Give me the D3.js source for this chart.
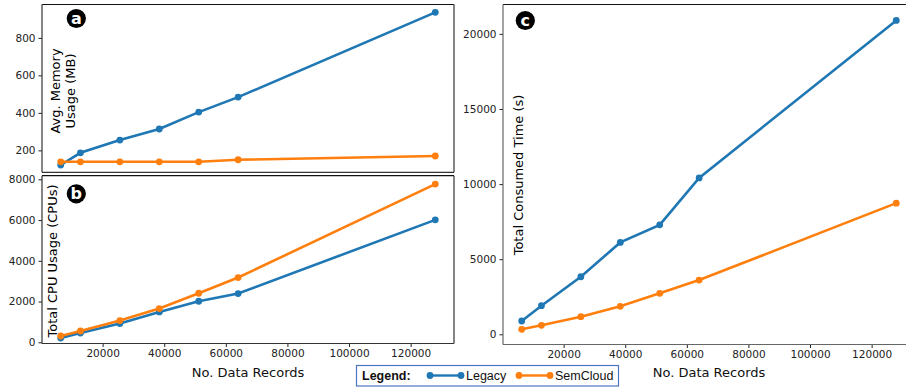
<!DOCTYPE html>
<html>
<head>
<meta charset="utf-8">
<script src="https://cdn.jsdelivr.net/npm/d3@7"></script>
<style>
  body { margin: 0; background: #fff; }
  svg { display: block; font-family: "DejaVu Sans", sans-serif; }
  .tick text { fill: #222; font-size: 10.5px; font-family: "DejaVu Sans", sans-serif; }
  .tick line { stroke: #222; }
  .domain { display: none; }
</style>
</head>
<body>
<div id="chart"></div>
<script>
// data
const records = [6400, 12800, 25600, 38400, 51200, 64000, 128000];
const memLegacy = [122, 187, 255, 314, 404, 484, 936];
const memSem = [139, 139, 139, 139, 139, 150, 170];
const cpuLegacy = [211, 457, 919, 1489, 2015, 2393, 6010];
const cpuSem = [310, 555, 1066, 1656, 2408, 3179, 7764];
const timeLegacy = [884, 1902, 3830, 6117, 7287, 10412, 20898];
const timeSem = [332, 598, 1170, 1862, 2726, 3610, 8730];
const xTicks = [20000, 40000, 60000, 80000, 100000, 120000];
const memTicks = [200, 400, 600, 800];
const cpuTicks = [0, 2000, 4000, 6000, 8000];
const timeTicks = [0, 5000, 10000, 15000, 20000];

const blue = "#1f77b4", orange = "#ff7f0e";
const W = 906, H = 387;

const svg = d3.select("#chart").append("svg").attr("width", W).attr("height", H);

function panel(opts) {
  const x = d3.scaleLinear().domain([320, 134080]).range([opts.left, opts.right]);
  const y = d3.scaleLinear().domain(opts.ydom).range([opts.bottom, opts.top]);
  const g = svg.append("g");

  // y axis
  g.append("g")
    .attr("transform", "translate(" + opts.left + ",0)")
    .call(d3.axisLeft(y).tickValues(opts.yticks).tickFormat(d3.format("d")).tickSize(3.5).tickPadding(3));
  // x axis
  if (opts.xaxis) {
    g.append("g")
      .attr("transform", "translate(0," + opts.bottom + ")")
      .call(d3.axisBottom(x).tickValues(xTicks).tickFormat(d3.format("d")).tickSize(3.5).tickPadding(3));
  }

  // frame
  const sides = opts.sides;
  const frame = g.append("g").attr("fill", "none").attr("stroke-width", 1.2);
  if (sides.includes("t")) frame.append("line").attr("x1", opts.left).attr("x2", opts.right).attr("y1", opts.top).attr("y2", opts.top).attr("stroke", "#111");
  if (sides.includes("b")) frame.append("line").attr("x1", opts.left).attr("x2", opts.right).attr("y1", opts.bottom).attr("y2", opts.bottom).attr("stroke", opts.spine || "#333");
  if (sides.includes("l")) frame.append("line").attr("x1", opts.left).attr("x2", opts.left).attr("y1", opts.top).attr("y2", opts.bottom).attr("stroke", opts.spine || "#333");
  if (sides.includes("r")) frame.append("line").attr("x1", opts.right).attr("x2", opts.right).attr("y1", opts.top).attr("y2", opts.bottom).attr("stroke", "#333");

  const line = d3.line().x((d) => x(d[0])).y((d) => y(d[1]));
  [[opts.legacy, blue], [opts.sem, orange]].forEach(([vals, col]) => {
    const pts = records.map((r, i) => [r, vals[i]]);
    g.append("path").datum(pts).attr("d", line)
      .attr("fill", "none").attr("stroke", col).attr("stroke-width", 2.6);
    g.selectAll(null).data(pts).enter().append("circle")
      .attr("cx", (d) => x(d[0])).attr("cy", (d) => y(d[1]))
      .attr("r", 3.4).attr("fill", col);
  });

  // y label (rotated, inside the frame)
  const lab = g.append("text")
    .attr("transform", "translate(" + opts.labX + "," + opts.labY + ") rotate(-90)")
    .attr("text-anchor", "middle").attr("font-size", 13).attr("fill", "#000");
  opts.ylabel.forEach((t, i) => {
    lab.append("tspan").attr("x", 0).attr("dy", i === 0 ? 0 : 15).text(t);
  });

  // badge
  g.append("circle").attr("cx", opts.badge[0]).attr("cy", opts.badge[1]).attr("r", 9.6).attr("fill", "#000");
  g.append("text").attr("x", opts.badge[0]).attr("y", opts.badge[1] + 5.5)
    .attr("text-anchor", "middle").attr("font-size", 16).attr("font-weight", "bold")
    .attr("fill", "#fff").text(opts.letter);

  if (opts.xlabel) {
    g.append("text").attr("x", opts.xlabX).attr("y", 377)
      .attr("text-anchor", "middle").attr("font-size", 13).attr("fill", "#111")
      .text("No. Data Records");
  }
}

panel({ left: 42, right: 454, top: 4.5, bottom: 172.3, ydom: [83, 978], yticks: memTicks,
  legacy: memLegacy, sem: memSem, sides: "tblr", xaxis: false,
  ylabel: ["Avg. Memory", "Usage (MB)"], labX: 60, labY: 91, badge: [76.3, 18.5], letter: "a" });

panel({ left: 42, right: 454, top: 175.7, bottom: 343.5, ydom: [-59, 8177], yticks: cpuTicks,
  legacy: cpuLegacy, sem: cpuSem, sides: "tblr", xaxis: true,
  ylabel: ["Total CPU Usage (CPUs)"], labX: 57, labY: 261, badge: [76.3, 193.8], letter: "b",
  xlabel: true, xlabX: 248 });

panel({ left: 503, right: 915, top: 4.5, bottom: 344.5, ydom: [-680, 21956], yticks: timeTicks,
  legacy: timeLegacy, sem: timeSem, sides: "tbl", spine: "#666", xaxis: true,
  ylabel: ["Total Consumed Time (s)"], labX: 523, labY: 175, badge: [525.3, 20.5], letter: "c",
  xlabel: true, xlabX: 709 });

// legend
const leg = svg.append("g").attr("font-family", "'Liberation Sans', Arial, sans-serif").attr("font-size", 12.5);
leg.append("rect").attr("x", 356.5).attr("y", 365.5).attr("width", 262).attr("height", 20.5)
  .attr("fill", "#fff").attr("stroke", "#4f76c4").attr("stroke-width", 1.2);
leg.append("text").attr("x", 362).attr("y", 380).attr("font-weight", "bold").attr("fill", "#111").text("Legend:");
const legendItems = [["Legacy", blue, 430], ["SemCloud", orange, 519]];
legendItems.forEach(([name, col, lx]) => {
  leg.append("line").attr("x1", lx).attr("x2", lx + 31).attr("y1", 375.5).attr("y2", 375.5)
    .attr("stroke", col).attr("stroke-width", 2.4);
  leg.append("circle").attr("cx", lx).attr("cy", 375.5).attr("r", 3.4).attr("fill", col);
  leg.append("circle").attr("cx", lx + 31).attr("cy", 375.5).attr("r", 3.4).attr("fill", col);
  leg.append("text").attr("x", lx + 36).attr("y", 380).attr("fill", "#111").text(name);
});
</script>
</body>
</html>
